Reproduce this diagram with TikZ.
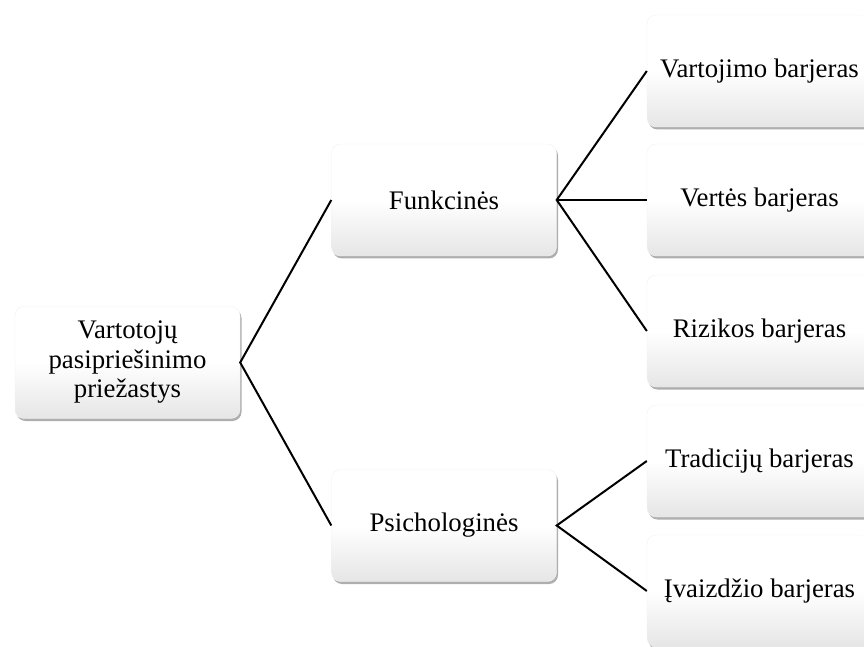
\documentclass[tikz,border=0pt]{standalone}
\usepackage{fontspec}
\setmainfont{Liberation Serif}
\usetikzlibrary{shadows}
\begin{document}
\begin{tikzpicture}[x=1pt,y=1pt,
  boxstyle/.style={rectangle, rounded corners=9pt, minimum width=225pt, minimum height=112pt,
    top color=white, bottom color=black!10, middle color=white, draw=black!5, line width=0.4pt,
    align=center, font=\fontsize{26.8}{29.5}\selectfont, inner sep=2pt,
    drop shadow={shadow xshift=1.5pt, shadow yshift=-2.5pt, opacity=0.45, fill=black!70}},
  link/.style={line width=2pt, black}]
\useasboundingbox (0,0) rectangle (864,646);
\clip (0,0) rectangle (864,646);
\node[boxstyle] (root) at (127.5,283.5) {Vartotojų\\pasipriešinimo\\priežastys};
\node[boxstyle] (funk) at (444,446) {Funkcinės};
\node[boxstyle] (psich) at (444,120.5) {Psichologinės};
\node[boxstyle] (b1) at (759.5,575) {Vartojimo barjeras};
\node[boxstyle] (b2) at (759.5,446) {Vertės barjeras};
\node[boxstyle] (b3) at (759.5,315) {Rizikos barjeras};
\node[boxstyle] (b4) at (759.5,185) {Tradicijų barjeras};
\node[boxstyle] (b5) at (759.5,55) {Įvaizdžio barjeras};
\draw[link] (funk.west) -- (root.east) -- (psich.west);
\draw[link] (b1.west) -- (funk.east) -- (b3.west);
\draw[link] (funk.east) -- (b2.west);
\draw[link] (b4.west) -- (psich.east) -- (b5.west);
\end{tikzpicture}
\end{document}
